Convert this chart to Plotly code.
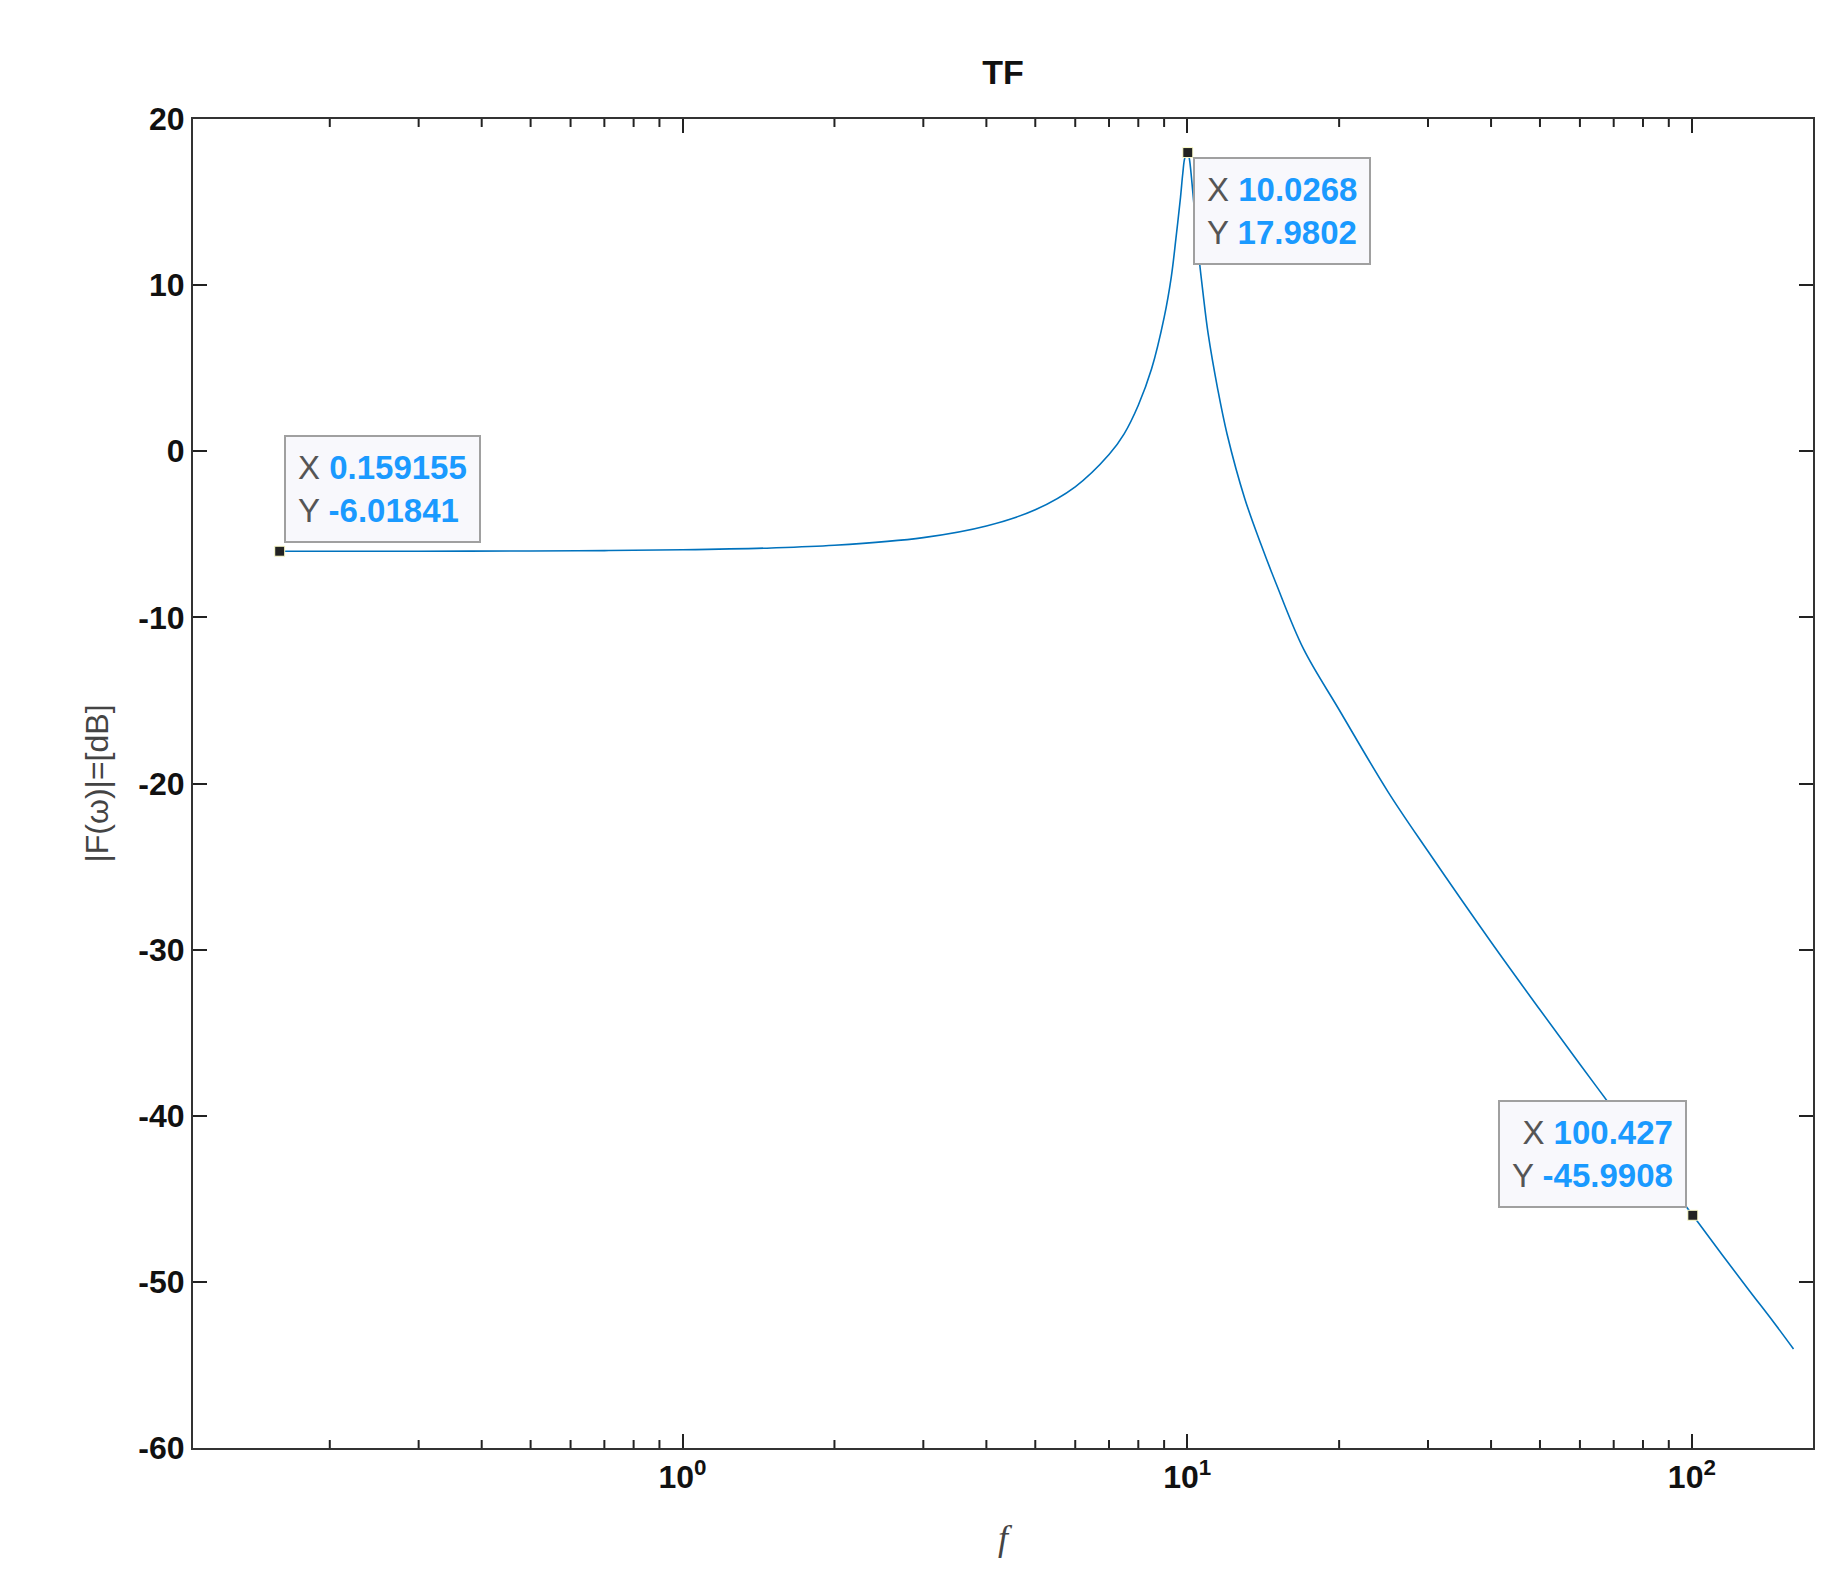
import math
import plotly.graph_objects as go

# readings of the magnitude curve (f in Hz, magnitude in dB)
freq = [0.159155, 0.2, 0.3, 0.5, 0.7, 1, 1.5, 2, 3, 4, 5, 6, 7, 7.5, 8, 8.5, 9, 9.3, 9.5, 9.7, 9.8,
        9.9, 10.0268, 10.1, 10.2, 10.35, 10.5, 10.75, 11, 11.5, 12, 13, 14, 15, 17, 20, 25, 30,
        40, 50, 60, 70, 85, 100.427, 115, 130, 145, 159]
mag_db = [-6.02, -6.02, -6.02, -6.00, -5.98, -5.93, -5.82, -5.66, -5.20, -4.50, -3.52, -2.14, -0.20,
          1.05, 2.77, 4.96, 8.04, 10.5, 12.83, 15.3, 16.72, 17.7, 17.98, 17.6, 16.43, 14.3, 12.27,
          9.5, 7.09, 3.7, 1.01, -2.84, -5.6, -7.96, -11.9, -15.56, -20.5, -24.08, -29.54, -33.62,
          -36.9, -39.64, -43.1, -45.99, -48.4, -50.53, -52.4, -54.04]

tip_x = [0.159155, 10.0268, 100.427]
tip_y = [-6.01841, 17.9802, -45.9908]

x_major = [1, 10, 100]
x_major_text = ["<b>10<sup>0</sup></b>", "<b>10<sup>1</sup></b>", "<b>10<sup>2</sup></b>"]
x_minor = [0.2, 0.3, 0.4, 0.5, 0.6, 0.7, 0.8, 0.9, 2, 3, 4, 5, 6, 7, 8, 9,
           20, 30, 40, 50, 60, 70, 80, 90]
y_ticks = [-60, -50, -40, -30, -20, -10, 0, 10, 20]

fig = go.Figure()
fig.add_trace(go.Scatter(x=freq, y=mag_db, mode="lines", line_shape="spline",
                         line=dict(color="#0072BD", width=1.6), showlegend=False))
fig.add_trace(go.Scatter(x=tip_x, y=tip_y, mode="markers",
                         marker=dict(symbol="square", size=10, color="#222222",
                                     line=dict(color="#ffffcc", width=1)),
                         showlegend=False))

# data tip boxes: (anchor, shift)
placements = [("left", "bottom", 4, 8), ("left", "top", 5, -4), ("right", "bottom", -6, 7)]
for (xa, ya, xs, ys), x, y in zip(placements, tip_x, tip_y):
    txt = ("<span style='color:#555555'>X </span><b>%s</b><br>"
           "<span style='color:#555555'>Y </span><b>%s</b>" % (f"{x:g}", f"{y:g}"))
    fig.add_annotation(x=math.log10(x), y=y, xref="x", yref="y", text=txt, showarrow=False,
                       xanchor=xa, yanchor=ya, xshift=xs, yshift=ys,
                       align="right" if xa == "right" else "left",
                       font=dict(family="Liberation Sans", size=33, color="#1a9aff"),
                       bgcolor="#f8f8fc", bordercolor="#a0a0a0", borderwidth=2, borderpad=12)

# short minor ticks on the log axis (bottom and top)
for v in x_minor:
    for y0, y1 in [(0, 0.006), (1, 0.994)]:
        fig.add_shape(type="line", xref="x", yref="paper", x0=v, x1=v, y0=y0, y1=y1,
                      line=dict(color="#222222", width=2))

axis_font = dict(family="Liberation Sans", size=32, color="#111111")
fig.update_layout(
    width=1828, height=1596,
    margin=dict(l=185, r=23, t=111, b=156),
    plot_bgcolor="white", paper_bgcolor="white",
    title=dict(text="<b>TF</b>", x=0.5, xref="paper", y=0.96, yanchor="middle",
               font=dict(family="Liberation Sans", size=34, color="#111111")),
    xaxis=dict(type="log", range=[-0.97, 2.24],
               tickvals=x_major, ticktext=x_major_text,
               ticks="inside", ticklen=14, tickwidth=2, tickcolor="#222222",
               showgrid=False, zeroline=False, showline=True, linecolor="#333333", linewidth=2,
               mirror="ticks", tickfont=axis_font,
               title=dict(text="<i>f</i>", font=dict(family="Liberation Serif", size=36, color="#444444"),
                          standoff=30)),
    yaxis=dict(range=[-60, 20], tickvals=y_ticks, ticktext=[f"<b>{v}</b>" for v in y_ticks],
               ticks="inside", ticklen=14, tickwidth=2, tickcolor="#222222",
               showgrid=False, zeroline=False, showline=True, linecolor="#333333", linewidth=2,
               mirror="ticks", tickfont=axis_font,
               title=dict(text="|F(ω)|=[dB]", font=dict(family="Liberation Sans", size=32, color="#444444"),
                          standoff=20)),
)

fig.write_html("out.html")
